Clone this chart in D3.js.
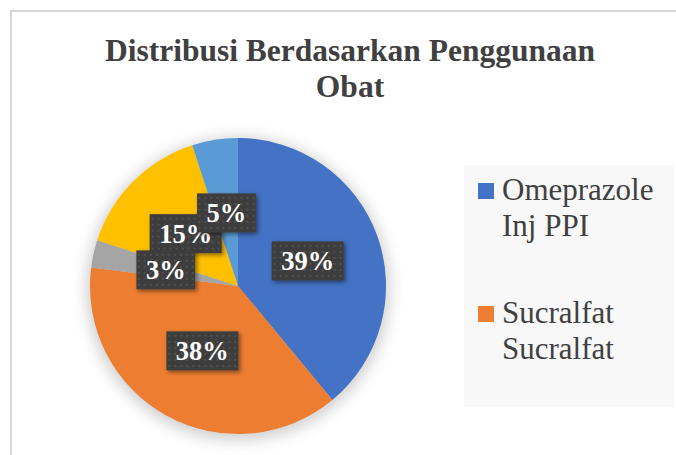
<!DOCTYPE html>
<html>
<head>
<meta charset="utf-8">
<script src="https://cdn.jsdelivr.net/npm/d3@7"></script>
<style>
  body { margin: 0; background: #fff; }
  svg { display: block; }
</style>
</head>
<body>
<svg id="chart" width="676" height="455"></svg>
<script>
// data
const sliceValues = [39, 38, 3, 15, 5];
const sliceColors = ["#4472C4", "#ED7D31", "#A5A5A5", "#FFC000", "#5B9BD5"];
const legendNames = ["Omeprazole Inj PPI", "Sucralfat Sucralfat"];
const titleText = "Distribusi Berdasarkan Penggunaan Obat";

let width = 676, height = 455;
let serif = '"Liberation Serif", "Times New Roman", serif';
let svg = d3.select('#chart');
let defs = svg.append('defs');

// dotted fill used by the data label boxes
let pat = defs.append('pattern')
  .attr('id', 'dots')
  .attr('width', 6).attr('height', 6)
  .attr('patternUnits', 'userSpaceOnUse');
pat.append('rect').attr('width', 6).attr('height', 6).attr('fill', '#3d3d3d');
pat.append('rect').attr('x', 2).attr('y', 2).attr('width', 2).attr('height', 2).attr('fill', '#515151');

let shadow = defs.append('filter').attr('id', 'boxShadow')
  .attr('x', '-30%').attr('y', '-30%').attr('width', '160%').attr('height', '160%');
shadow.append('feDropShadow')
  .attr('dx', 2).attr('dy', 2).attr('stdDeviation', 2)
  .attr('flood-color', '#000').attr('flood-opacity', 0.45);

let glow = defs.append('filter').attr('id', 'pieGlow')
  .attr('x', '-30%').attr('y', '-30%').attr('width', '160%').attr('height', '160%');
glow.append('feGaussianBlur').attr('stdDeviation', 8);

// chart area border (runs off the right and bottom edges)
svg.append('rect')
  .attr('x', 11).attr('y', 11)
  .attr('width', width).attr('height', height)
  .attr('fill', '#fff')
  .attr('stroke', '#c9c9c9')
  .attr('stroke-width', 1.5);

// word wrap for the title and legend labels
function wrapText(textSel, maxWidth, lineHeight) {
  textSel.each(function() {
    let t = d3.select(this);
    let words = t.text().split(/\s+/);
    let x = t.attr('x');
    t.text(null);
    let line = [];
    let ts = t.append('tspan').attr('x', x).attr('dy', 0);
    words.forEach(w => {
      line.push(w);
      ts.text(line.join(' '));
      if (ts.node().getComputedTextLength() > maxWidth && line.length > 1) {
        line.pop();
        ts.text(line.join(' '));
        line = [w];
        ts = t.append('tspan').attr('x', x).attr('dy', lineHeight).text(w);
      }
    });
  });
}

svg.append('text')
  .attr('x', 350).attr('y', 61)
  .attr('text-anchor', 'middle')
  .style('font-family', serif)
  .style('font-weight', 'bold')
  .style('font-size', '31.5px')
  .attr('fill', '#404040')
  .text(titleText)
  .call(wrapText, 520, 36);

// pie
let cx = 238, cy = 286, r = 148;
let pie = d3.pie().sort(null).value(d => d);
let arcs = pie(sliceValues);
let arc = d3.arc().innerRadius(0).outerRadius(r);
let total = d3.sum(sliceValues);
let pct = d3.format('.0%');

let g = svg.append('g').attr('transform', `translate(${cx},${cy})`);

g.append('circle')
  .attr('cx', 0).attr('cy', 3).attr('r', r + 3)
  .attr('fill', '#000').attr('opacity', 0.2)
  .attr('filter', 'url(#pieGlow)');

g.selectAll('path.slice')
  .data(arcs).enter().append('path')
  .attr('class', 'slice')
  .attr('d', arc)
  .attr('fill', (d, i) => sliceColors[i]);

// data labels: dark dotted boxes at the slice centroids
let labels = g.selectAll('g.lbl')
  .data(arcs).enter().append('g')
  .attr('class', 'lbl')
  .attr('transform', d => `translate(${arc.centroid(d)})`);

labels.each(function(d) {
  let lg = d3.select(this);
  let box = lg.append('rect').attr('fill', 'url(#dots)').attr('filter', 'url(#boxShadow)');
  let txt = lg.append('text')
    .attr('text-anchor', 'middle')
    .attr('y', 9.5)
    .style('font-family', serif)
    .style('font-weight', 'bold')
    .style('font-size', '26.5px')
    .attr('fill', '#fff')
    .text(pct(d.data / total));
  let w = txt.node().getComputedTextLength() + 19;
  box.attr('x', -w / 2).attr('y', -19.5).attr('width', w).attr('height', 39);
});

// in the reference the 3% and 5% boxes sit above the 15% box
labels.filter(d => d.index === 2).raise();
labels.filter(d => d.index === 4).raise();

// legend
let legend = svg.append('g');
legend.append('rect')
  .attr('x', 464).attr('y', 165)
  .attr('width', 210).attr('height', 242)
  .attr('fill', '#f8f8f8');

let legendY = d3.scalePoint().domain(legendNames).range([200, 323]);

legendNames.forEach((name, i) => {
  let y = legendY(name);
  legend.append('rect')
    .attr('x', 478).attr('y', y - 17)
    .attr('width', 16).attr('height', 16)
    .attr('fill', sliceColors[i]);
  legend.append('text')
    .attr('x', 502).attr('y', y)
    .style('font-family', serif)
    .style('font-size', '31px')
    .attr('fill', '#404040')
    .text(name)
    .call(wrapText, 165, 36);
});
</script>
</body>
</html>
